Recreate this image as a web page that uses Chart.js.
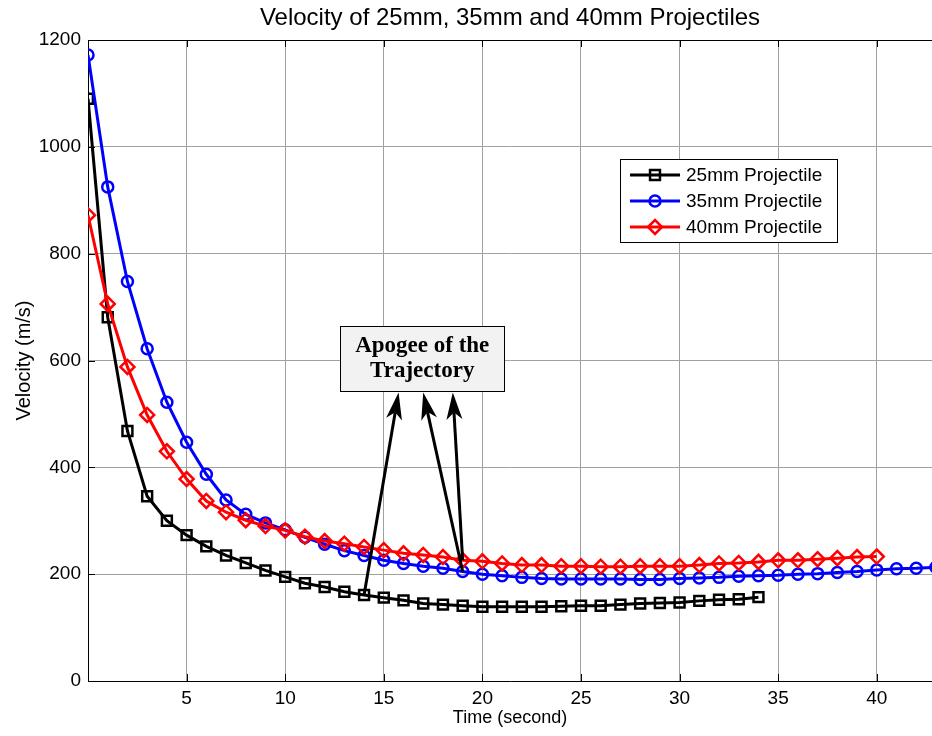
<!DOCTYPE html>
<html>
<head>
<meta charset="utf-8">
<script src="https://cdn.jsdelivr.net/npm/chart.js@4.4.1/dist/chart.umd.min.js"></script>
<style>
  html, body { margin: 0; padding: 0; background: #fff; }
  #wrap { width: 932px; height: 736px; }
</style>
</head>
<body>
<div id="wrap"><canvas id="chart" width="932" height="736"></canvas></div>
<script>
// Velocity samples, one per second after launch (m/s).
const timeSec = [0, 1, 2, 3, 4, 5, 6, 7, 8, 9, 10, 11, 12, 13, 14, 15, 16, 17, 18, 19, 20, 21,
  22, 23, 24, 25, 26, 27, 28, 29, 30, 31, 32, 33, 34, 35, 36, 37, 38, 39, 40, 41, 42, 43];
const v25mm = [1090, 681, 468, 346, 300, 273, 252, 235, 221, 207, 195, 183, 176, 167, 161, 156, 151, 145,
  143, 141, 139, 139, 139, 139, 140, 141, 141, 143, 145, 146, 147, 150, 152, 153, 157];
const v35mm = [1172, 925, 748, 622, 522, 447, 387, 339, 312, 296, 283, 269, 256, 244, 235, 226, 220, 215,
  211, 205, 200, 197, 194, 192, 191, 191, 191, 191, 190, 190, 192, 193, 194, 196, 197, 198, 200, 201,
  203, 205, 208, 210, 211, 213];
const v40mm = [872, 706, 588, 498, 430, 378, 337, 316, 301, 290, 282, 270, 262, 257, 251, 245, 239, 236,
  232, 226, 224, 220, 217, 217, 215, 215, 214, 214, 215, 215, 215, 217, 220, 221, 223, 226, 226, 228,
  230, 232, 233];
const xTicks = [5, 10, 15, 20, 25, 30, 35, 40];
const yTicks = [0, 200, 400, 600, 800, 1000, 1200];

const SANS = '"Liberation Sans", Arial, sans-serif';
const SERIF = '"Liberation Serif", "Times New Roman", serif';

const series = [
  { label: '25mm Projectile', values: v25mm, color: '#000000', marker: 'rect', radius: 7, order: 2 },
  { label: '35mm Projectile', values: v35mm, color: '#0000ff', marker: 'circle', radius: 5.5, order: 1 },
  { label: '40mm Projectile', values: v40mm, color: '#ff0000', marker: 'rectRot', radius: 7, order: 0 },
];

// Text box + arrows pointing at the apogee samples (box centre and tips in data units).
const apogee = {
  lines: ['Apogee of the', 'Trajectory'],
  centre: [16.95, 604], w: 164, h: 65,
  arrows: [
    { from: [14, v25mm[14]], tip: [15.75, 540] },
    { from: [19, v35mm[19]], tip: [17.0, 540] },
    { from: [19, v40mm[19]], tip: [18.5, 540] },
  ],
};

function marker(ctx, style, x, y, r) {
  ctx.beginPath();
  if (style === 'rect') { const s = r * Math.SQRT1_2; ctx.rect(x - s, y - s, 2 * s, 2 * s); }
  else if (style === 'rectRot') { ctx.moveTo(x - r, y); ctx.lineTo(x, y - r); ctx.lineTo(x + r, y); ctx.lineTo(x, y + r); ctx.closePath(); }
  else ctx.arc(x, y, r, 0, Math.PI * 2);
  ctx.stroke();
}

// Title over the plot area, black top edge and MATLAB-style inward ticks.
const frame = {
  id: 'frame',
  afterDraw(chart) {
    const { ctx, chartArea: a, scales } = chart;
    ctx.save();
    ctx.fillStyle = '#000';
    ctx.font = '24px ' + SANS;
    ctx.textAlign = 'center';
    ctx.textBaseline = 'middle';
    ctx.fillText('Velocity of 25mm, 35mm and 40mm Projectiles', (a.left + a.right) / 2, 18);
    ctx.strokeStyle = '#000';
    ctx.lineWidth = 1;
    ctx.beginPath();
    ctx.moveTo(a.left, a.top + 0.5); ctx.lineTo(a.right, a.top + 0.5);
    xTicks.forEach((v) => {
      const px = Math.round(scales.x.getPixelForValue(v)) + 0.5;
      ctx.moveTo(px, a.bottom); ctx.lineTo(px, a.bottom - 7);
      ctx.moveTo(px, a.top); ctx.lineTo(px, a.top + 7);
    });
    yTicks.forEach((v) => {
      const py = Math.round(scales.y.getPixelForValue(v)) + 0.5;
      ctx.moveTo(a.left, py); ctx.lineTo(a.left + 7, py);
    });
    ctx.stroke();
    ctx.restore();
  },
};

const legendBox = {
  id: 'legendBox',
  afterDraw(chart) {
    const { ctx } = chart;
    const x = 620, y = 159, w = 217, h = 83;
    ctx.save();
    ctx.fillStyle = '#fff';
    ctx.fillRect(x, y, w, h);
    ctx.strokeStyle = '#000';
    ctx.lineWidth = 1;
    ctx.strokeRect(x + 0.5, y + 0.5, w, h);
    ctx.font = '19px ' + SANS;
    ctx.textBaseline = 'middle';
    series.forEach((s, i) => {
      const ry = y + 16 + i * 26;
      ctx.strokeStyle = s.color;
      ctx.lineWidth = 3;
      ctx.beginPath(); ctx.moveTo(x + 10, ry); ctx.lineTo(x + 60, ry); ctx.stroke();
      ctx.lineWidth = 2.5;
      marker(ctx, s.marker, x + 35, ry, s.radius);
      ctx.fillStyle = '#000';
      ctx.fillText(s.label, x + 66, ry + 1);
    });
    ctx.restore();
  },
};

function arrow(ctx, x0, y0, x1, y1) {
  const len = Math.hypot(x1 - x0, y1 - y0);
  const dx = (x1 - x0) / len, dy = (y1 - y0) / len;
  const nx = -dy, ny = dx;
  const L = 27, W = 8, notch = 7;
  ctx.beginPath();
  ctx.moveTo(x0, y0);
  ctx.lineTo(x1 - dx * (L - notch), y1 - dy * (L - notch));
  ctx.stroke();
  ctx.beginPath();
  ctx.moveTo(x1, y1);
  ctx.lineTo(x1 - dx * L + nx * W, y1 - dy * L + ny * W);
  ctx.lineTo(x1 - dx * (L - notch), y1 - dy * (L - notch));
  ctx.lineTo(x1 - dx * L - nx * W, y1 - dy * L - ny * W);
  ctx.closePath();
  ctx.fill();
}

const apogeeNote = {
  id: 'apogeeNote',
  afterDatasetsDraw(chart) {
    const { ctx, scales: { x, y } } = chart;
    const px = (p) => [x.getPixelForValue(p[0]), y.getPixelForValue(p[1])];
    ctx.save();
    ctx.strokeStyle = '#000';
    ctx.fillStyle = '#000';
    ctx.lineWidth = 3;
    apogee.arrows.forEach((a) => {
      const [x0, y0] = px(a.from), [x1, y1] = px(a.tip);
      arrow(ctx, x0, y0, x1, y1);
    });
    const [cx, cy] = px(apogee.centre);
    const bx = Math.round(cx - apogee.w / 2) + 0.5, by = Math.round(cy - apogee.h / 2) + 0.5;
    ctx.fillStyle = '#f2f2f2';
    ctx.fillRect(bx, by, apogee.w, apogee.h);
    ctx.lineWidth = 1;
    ctx.strokeRect(bx, by, apogee.w, apogee.h);
    ctx.fillStyle = '#000';
    ctx.font = 'bold 23px ' + SERIF;
    ctx.textAlign = 'center';
    ctx.textBaseline = 'middle';
    apogee.lines.forEach((t, i) => ctx.fillText(t, cx, cy + (i - 0.5) * 25));
    ctx.restore();
  },
};

new Chart(document.getElementById('chart'), {
  type: 'line',
  data: {
    datasets: series.map((s) => ({
      label: s.label,
      data: s.values.map((v, i) => ({ x: timeSec[i], y: v })),
      borderColor: s.color,
      borderWidth: 3,
      pointStyle: s.marker,
      pointRadius: s.radius,
      pointBorderWidth: 2.5,
      pointBorderColor: s.color,
      pointBackgroundColor: 'rgba(0,0,0,0)',
      tension: 0,
      order: s.order,
    })),
  },
  options: {
    responsive: false,
    animation: false,
    events: [],
    layout: { autoPadding: false, padding: { top: 40, right: 0, bottom: 0, left: 0 } },
    plugins: { legend: { display: false }, tooltip: { enabled: false }, title: { display: false } },
    scales: {
      x: {
        type: 'linear', min: 0, max: 42.8,
        afterBuildTicks: (s) => { s.ticks = xTicks.map((v) => ({ value: v })); },
        afterFit: (s) => { s.height = 55; s.paddingLeft = 0; s.paddingRight = 0; },
        grid: { color: '#a0a0a0', lineWidth: 1, drawTicks: false },
        border: { color: '#000', width: 1 },
        ticks: { padding: 6, color: '#000', font: { family: SANS, size: 19 }, callback: (v) => String(v) },
        title: { display: true, text: 'Time (second)', color: '#000', font: { family: SANS, size: 18 }, padding: { top: 0, bottom: 7 } },
      },
      y: {
        min: 0, max: 1200,
        afterBuildTicks: (s) => { s.ticks = yTicks.map((v) => ({ value: v })); },
        afterFit: (s) => { s.width = 88; s.paddingTop = 0; s.paddingBottom = 0; },
        grid: { color: '#a0a0a0', lineWidth: 1, drawTicks: false },
        border: { color: '#000', width: 1 },
        ticks: { padding: 7, color: '#000', font: { family: SANS, size: 19 }, callback: (v) => String(v) },
        title: { display: true, text: 'Velocity (m/s)', color: '#000', font: { family: SANS, size: 20 }, padding: { top: 12, bottom: 0 } },
      },
    },
  },
  plugins: [frame, apogeeNote, legendBox],
});
</script>
</body>
</html>
